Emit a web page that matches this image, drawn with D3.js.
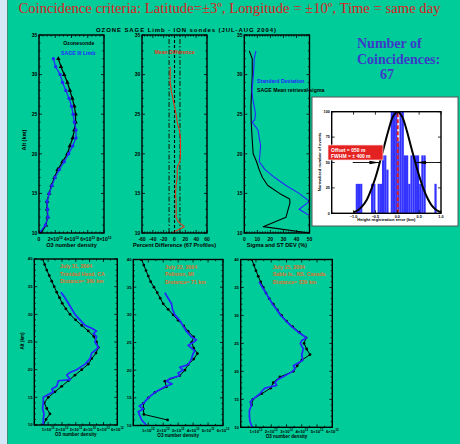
<!DOCTYPE html>
<html>
<head>
<meta charset="utf-8">
<script src="https://cdn.jsdelivr.net/npm/d3@7"></script>
<style>
  body { margin: 0; background: #d4e9f7; }
  svg { display: block; }
  text { font-family: "Liberation Sans", Arial, sans-serif; font-weight: bold; }
</style>
</head>
<body>
<svg id="chart" width="460" height="444"></svg>
<script>
// ---- top row: mean of the 67 coincidences (O3 in units of 10^12)
const meanAlt = [32, 31, 30, 29, 28, 27, 26, 25, 24, 23, 22, 21, 20, 19, 18, 17, 16, 15, 14, 13, 12, 11, 10];
const sondeMean = [2.38, 2.7, 3.1, 3.5, 3.8, 4.1, 4.35, 4.5, 4.5, 4.35, 4.15, 3.8, 3.5, 2.9, 2.3, 1.9, 1.55, 1.25, 1.0, 1.0, 1.05, 0.85, 0.25];
const sageMean = [1.77, 2.05, 2.6, 2.9, 3.3, 3.7, 4.0, 4.2, 4.35, 4.55, 4.55, 4.15, 3.65, 3.1, 2.5, 1.97, 1.6, 1.25, 1.0, 1.05, 1.1, 0.78, 0.05];

const diffAlt = [31, 30, 29, 28, 27, 26, 25, 24, 23, 22, 21, 20, 19, 18.5, 18, 17, 16, 15, 14, 13, 12, 11.4, 10.8, 10];
const meanDiff = [-8, -8, -8, -6, -3, 0, 3, 5, 9, 11, 11, 11, 10, 6, 5, 5, 3, 2, 3, 3, 3, 7, 18, -5];

const sigmaAlt = [33, 32, 30, 28, 26, 24, 22, 20, 19, 18, 17, 16, 15, 14.3, 13.8, 12, 10.8, 10];
const sageSigma = [3.8, 6.1, 6.1, 5.6, 5.1, 5.3, 6.0, 6.8, 9.4, 11.4, 13.9, 18, 27, 34.8, 35, 32, 14.5, 50];
const stdAlt = [33, 32, 30, 28, 27, 26, 25, 24.3, 24, 23, 21, 20, 19, 18, 17, 16, 15, 14, 13, 12, 10];
const stdDev = [8.9, 7.6, 7.0, 5.9, 6.4, 7.6, 8.6, 8.0, 6.0, 10.5, 12.5, 12, 11.5, 15.9, 23.3, 32, 42, 50, 42, 52, 52];

// ---- height registration histogram (km, normalized counts)
const binWidth = 0.05;
const binStart = [-0.95, -0.90, -0.85, -0.60, -0.55, -0.45, -0.40, -0.35, -0.30, -0.25, -0.15, -0.10, -0.05, 0.00, 0.05, 0.10, 0.15, 0.20, 0.25, 0.30, 0.35, 0.40, 0.45, 0.50, 0.55, 0.60, 0.85];
const binCount = [29, 29, 29, 29, 29, 29, 29, 57, 57, 43, 100, 100, 100, 71, 100, 100, 57, 57, 29, 57, 57, 57, 57, 29, 57, 57, 29];
const fitX = [-1.0, -0.9, -0.8, -0.7, -0.6, -0.5, -0.4, -0.3, -0.2, -0.1, 0.0, 0.1, 0.2, 0.3, 0.4, 0.5, 0.6, 0.7, 0.8, 0.9, 1.0];
const fitY = [1, 3, 7, 13, 23, 35, 50, 66, 82, 95, 100, 96, 84, 68, 52, 37, 24, 14, 7, 3, 1];
const fitOffset = 0.01;
const fitHalfWidth = 0.42;

// ---- bottom row: single coincidences
const trinidadSondeAlt = [40, 39, 38, 37, 36, 35, 34, 33, 32, 31, 30, 29, 28, 27, 26, 25, 24, 23, 22, 21, 20, 19, 18, 17, 16, 15, 14, 13, 12, 11, 10];
const trinidadSonde = [0.61, 0.75, 0.9, 1.08, 1.26, 1.44, 1.62, 1.82, 2.02, 2.28, 2.58, 2.98, 3.43, 3.9, 4.3, 4.5, 4.63, 4.46, 4.15, 3.9, 3.43, 2.94, 2.46, 1.98, 1.5, 1.01, 0.72, 0.9, 1.13, 0.85, 0.65];
const trinidadSageAlt = [34, 33, 32, 31, 30, 29, 28, 27.5, 27, 26.5, 26, 25, 24, 23.5, 23, 22, 21, 20, 19.5, 19, 18.2, 18, 17, 16.5, 16, 15, 14, 13, 12, 11, 10];
const trinidadSage = [1.93, 2.22, 2.46, 2.7, 2.94, 3.3, 3.67, 4.15, 4.5, 4.27, 4.5, 4.39, 4.63, 4.4, 4.15, 4.03, 3.67, 3.06, 2.58, 2.34, 2.62, 1.74, 1.62, 1.26, 1.38, 0.65, 0.65, 0.6, 0.7, 0.65, 0.65];

const pellstonSondeAlt = [40, 39, 38, 37, 36, 35, 34, 33, 32, 31, 30, 29, 28, 27, 26, 25, 24, 23, 22, 21, 20, 19, 18, 17, 16, 15, 14, 13, 12, 11];
const pellstonSonde = [0.56, 0.7, 0.85, 1.0, 1.16, 1.38, 1.6, 1.8, 2.0, 2.33, 2.67, 3.0, 3.38, 3.67, 4.04, 3.9, 4.04, 4.29, 4.04, 3.67, 3.45, 3.11, 2.11, 2.22, 1.45, 1.0, 0.67, 0.67, 0.71, 2.29];
const pellstonSageAlt = [34, 33, 32, 31, 30, 29, 28, 27, 26, 25.5, 25, 24.5, 24, 23.5, 23, 22, 21, 20.5, 20, 19.5, 19, 18.5, 18, 17.5, 17, 16, 15, 14, 13.5, 13, 12.5, 12, 11, 10];
const pellstonSage = [2.11, 2.33, 2.56, 2.62, 2.78, 3.11, 3.33, 3.56, 3.89, 4.22, 4.0, 3.67, 3.89, 4.11, 4.0, 3.89, 3.67, 3.11, 3.33, 2.99, 3.11, 2.45, 2.22, 2.6, 2.11, 1.45, 1.0, 0.67, 0.4, 0.67, 0.33, 0.4, 0.56, 0.89];

const sableSondeAlt = [40, 39, 38, 37, 36, 35, 34, 33, 32, 31, 30, 29, 28, 27, 26, 25, 24, 23, 22, 21, 20, 19, 18, 17, 16, 15, 14];
const sableSonde = [0.72, 0.87, 1.0, 1.15, 1.31, 1.48, 1.66, 1.87, 2.14, 2.4, 2.68, 3.0, 3.4, 3.84, 4.28, 4.15, 4.32, 4.54, 4.0, 3.7, 3.45, 2.57, 2.14, 1.96, 1.38, 0.79, 0.72];
const sableSageAlt = [36, 35, 34, 33, 32, 31, 30, 29, 28, 27, 26, 25.5, 25, 24.5, 24, 23, 22, 21, 20.5, 20, 19, 18.5, 18, 17.5, 17, 16.5, 16, 15, 14.5, 14, 13, 12, 11, 10];
const sableSage = [1.2, 1.43, 1.66, 1.87, 2.09, 2.36, 2.62, 2.97, 3.34, 3.77, 4.32, 4.0, 3.9, 4.0, 4.1, 4.0, 4.06, 3.45, 3.56, 3.4, 2.75, 2.4, 2.25, 2.36, 1.59, 1.4, 1.26, 0.78, 0.61, 0.72, 0.57, 0.57, 0.61, 0.76];

const stations = [
    ["July 31, 2004", "Trinidad Head, CA", "Distance= 360 km"],
    ["July 22, 2004", "Pellston, MI", "Distance= 71 km"],
    ["July 25, 2004", "Sable Is., NS, Canada", "Distance= 339 km"]
];

const GREEN = "#00cc99", SONDE = "#000000", SAGE = "#2626ff", RED = "#e8341c", ORANGE = "#e0702e";

const svg = d3.select("#chart");
const defs = svg.append("defs");

// background
svg.append("rect").attr("x", 7).attr("y", 0).attr("width", 453).attr("height", 444).attr("fill", GREEN);
svg.append("line").attr("x1", 7.5).attr("x2", 7.5).attr("y1", 0).attr("y2", 444)
    .attr("stroke", "#3f8f78").attr("stroke-width", 1);

svg.append("text").attr("x", 18.5).attr("y", 13)
    .attr("textLength", 422).attr("lengthAdjust", "spacingAndGlyphs")
    .style("font-family", "'Liberation Serif', 'Times New Roman', serif")
    .style("font-weight", "normal").style("font-size", "15px")
    .attr("fill", "#dd2222")
    .text("Coincidence criteria: Latitude=±3º, Longitude = ±10º, Time = same day");

svg.append("text").attr("x", 96).attr("y", 31.7)
    .attr("textLength", 180).attr("lengthAdjust", "spacing")
    .style("font-size", "6px")
    .text("OZONE SAGE Limb - ION sondes  (JUL-AUG  2004)");

// ---- generic panel helpers
let clipCount = 0;
function makePanel(box, xDom, yDom) {
    const x = d3.scaleLinear().domain(xDom).range([box.x0, box.x1]);
    const y = d3.scaleLinear().domain(yDom).range([box.y1, box.y0]);
    const id = "clip" + (clipCount++);
    defs.append("clipPath").attr("id", id).append("rect")
        .attr("x", box.x0).attr("y", box.y0)
        .attr("width", box.x1 - box.x0).attr("height", box.y1 - box.y0);
    const g = svg.append("g");
    const plot = g.append("g").attr("clip-path", "url(#" + id + ")");
    return { g, plot, x, y, box };
}

function drawFrame(p, o) {
    const { g, x, y, box } = p;
    const xd = x.domain(), yd = y.domain();
    const isMajor = (v, m) => Math.abs(v / m - Math.round(v / m)) < 1e-6;
    d3.range(xd[0], xd[1] + 1e-9, o.xMinor).forEach(v => {
        const len = isMajor(v, o.xMajor) ? 3 : 1.6;
        g.append("line").attr("x1", x(v)).attr("x2", x(v)).attr("y1", box.y1).attr("y2", box.y1 - len)
            .attr("stroke", "black").attr("stroke-width", 0.8);
        g.append("line").attr("x1", x(v)).attr("x2", x(v)).attr("y1", box.y0).attr("y2", box.y0 + len)
            .attr("stroke", "black").attr("stroke-width", 0.8);
    });
    d3.range(yd[0], yd[1] + 1e-9, o.yMinor).forEach(v => {
        const len = isMajor(v, o.yMajor) ? 3 : 1.6;
        g.append("line").attr("y1", y(v)).attr("y2", y(v)).attr("x1", box.x0).attr("x2", box.x0 + len)
            .attr("stroke", "black").attr("stroke-width", 0.8);
        g.append("line").attr("y1", y(v)).attr("y2", y(v)).attr("x1", box.x1).attr("x2", box.x1 - len)
            .attr("stroke", "black").attr("stroke-width", 0.8);
    });
    g.append("rect").attr("x", box.x0).attr("y", box.y0)
        .attr("width", box.x1 - box.x0).attr("height", box.y1 - box.y0)
        .attr("fill", "none").attr("stroke", "black").attr("stroke-width", 1.4);

    // tick labels
    o.xLabels.forEach(v => {
        const t = g.append("text").attr("x", x(v)).attr("y", box.y1 + o.xLabelDy)
            .attr("text-anchor", "middle").style("font-size", o.fs + "px");
        if (o.sci && v !== 0) {
            t.append("tspan").text(v + "×10");
            t.append("tspan").attr("dy", -o.fs * 0.45).style("font-size", (o.fs * 0.7) + "px").text("12");
        } else {
            t.text(o.fmt ? o.fmt(v) : v);
        }
    });
    o.yLabels.forEach(v => {
        g.append("text").attr("x", box.x0 - 1.8).attr("y", y(v) + o.fs * 0.35)
            .attr("text-anchor", "end").style("font-size", o.fs + "px").text(v);
    });
    g.append("text").attr("x", (box.x0 + box.x1) / 2).attr("y", box.y1 + o.titleDy)
        .attr("text-anchor", "middle").style("font-size", o.titleFs + "px").text(o.xTitle);
}

function profileLine(p, alts, vals, color, width) {
    const line = d3.line().x(d => p.x(d[1])).y(d => p.y(d[0]));
    p.plot.append("path").datum(d3.zip(alts, vals))
        .attr("d", line).attr("fill", "none")
        .attr("stroke", color).attr("stroke-width", width).attr("stroke-linejoin", "round");
}

function markers(p, alts, vals, color, type, size) {
    p.plot.append("g").selectAll("path")
        .data(d3.zip(alts, vals))
        .join("path")
        .attr("transform", d => "translate(" + p.x(d[1]) + "," + p.y(d[0]) + ")")
        .attr("d", d3.symbol().type(type).size(size))
        .attr("fill", color);
}

// ---- panel 1: mean O3 number density
const p1 = makePanel({ x0: 39, x1: 104, y0: 35, y1: 233 }, [0, 8], [10, 35]);
profileLine(p1, meanAlt, sondeMean, SONDE, 1.2);
markers(p1, meanAlt, sondeMean, SONDE, d3.symbolTriangle, 9);
profileLine(p1, meanAlt, sageMean, SAGE, 1.2);
markers(p1, meanAlt, sageMean, SAGE, d3.symbolCircle, 9);
drawFrame(p1, { xMinor: 0.5, xMajor: 2, yMinor: 1, yMajor: 5, xLabels: [0, 2, 4, 6, 8], yLabels: [10, 15, 20, 25, 30, 35],
    sci: true, fs: 5, xLabelDy: 8, titleDy: 13.5, titleFs: 5.6, xTitle: "O3  number  density" });
p1.g.append("text").attr("x", 63.3).attr("y", 45).style("font-size", "5.2px").text("Ozonesonde");
p1.g.append("text").attr("x", 61).attr("y", 55).style("font-size", "5.2px").attr("fill", SAGE).text("SAGE III Limb");
svg.append("text").attr("transform", "translate(26,140) rotate(-90)").attr("text-anchor", "middle")
    .style("font-size", "5.6px").text("Alt  (km)");

// ---- panel 2: percent difference
const p2 = makePanel({ x0: 142, x1: 207, y0: 35, y1: 233 }, [-60, 60], [10, 35]);
[-10, 10].forEach(v => {
    p2.plot.append("line").attr("x1", p2.x(v)).attr("x2", p2.x(v)).attr("y1", p2.y(10)).attr("y2", p2.y(35))
        .attr("stroke", "#0a5a3a").attr("stroke-width", 1.6).attr("stroke-dasharray", "5,2,1.5,2");
});
p2.plot.append("line").attr("x1", p2.x(0)).attr("x2", p2.x(0)).attr("y1", p2.y(10)).attr("y2", p2.y(35))
    .attr("stroke", "black").attr("stroke-width", 1.1).attr("stroke-dasharray", "3,2");
profileLine(p2, diffAlt, meanDiff, RED, 1.1);
drawFrame(p2, { xMinor: 5, xMajor: 20, yMinor: 1, yMajor: 5, xLabels: [-60, -40, -20, 0, 20, 40, 60], yLabels: [10, 15, 20, 25, 30, 35],
    sci: false, fs: 5, xLabelDy: 8, titleDy: 13.5, titleFs: 5.6, xTitle: "Percent  Difference  (67 Profiles)" });
p2.g.append("text").attr("x", 174.5).attr("y", 54).attr("text-anchor", "middle")
    .style("font-size", "5.2px").attr("fill", RED).text("Mean Difference");

// ---- panel 3: sigma and standard deviation
const p3 = makePanel({ x0: 244.3, x1: 309.5, y0: 35, y1: 233 }, [0, 50], [10, 35]);
profileLine(p3, sigmaAlt, sageSigma, SONDE, 1.1);
profileLine(p3, stdAlt, stdDev, SAGE, 1.1);
drawFrame(p3, { xMinor: 2, xMajor: 10, yMinor: 1, yMajor: 5, xLabels: [0, 10, 20, 30, 40, 50], yLabels: [10, 15, 20, 25, 30, 35],
    sci: false, fs: 5, xLabelDy: 8, titleDy: 13.5, titleFs: 5.6, xTitle: "Sigma  and ST DEV  (%)" });
svg.append("text").attr("x", 257).attr("y", 83).style("font-size", "5.2px").attr("fill", SAGE).text("Standard  Deviation");
svg.append("text").attr("x", 257).attr("y", 92).style("font-size", "5.2px").text("SAGE  Mean  retrieval  sigma");

// ---- number of coincidences
const serif = "'Liberation Serif', 'Times New Roman', serif";
const coinColor = "#3b3bc8";
svg.append("text").attr("x", 357).attr("y", 48).style("font-family", serif).style("font-size", "14px")
    .attr("fill", coinColor).text("Number of");
svg.append("text").attr("x", 357).attr("y", 63.5).style("font-family", serif).style("font-size", "14px")
    .attr("fill", coinColor).text("Coincidences:");
svg.append("text").attr("x", 387).attr("y", 79).attr("text-anchor", "middle").style("font-family", serif).style("font-size", "14px")
    .attr("fill", coinColor).text("67");

// ---- histogram inset
svg.append("rect").attr("x", 312).attr("y", 97).attr("width", 146).attr("height", 129)
    .attr("fill", "white").attr("stroke", "#555").attr("stroke-width", 1);
const ph = makePanel({ x0: 331.7, x1: 441, y0: 111.7, y1: 213.3 }, [-1.5, 1.0], [0, 100]);
ph.plot.selectAll("rect.bar")
    .data(d3.zip(binStart, binCount))
    .join("rect")
    .attr("class", "bar")
    .attr("x", d => ph.x(d[0]))
    .attr("width", d => ph.x(d[0] + binWidth) - ph.x(d[0]))
    .attr("y", d => ph.y(d[1]))
    .attr("height", d => ph.y(0) - ph.y(d[1]))
    .attr("fill", "#3333ff");
ph.plot.append("path").datum(d3.zip(fitX, fitY))
    .attr("d", d3.line().x(d => ph.x(d[0])).y(d => ph.y(d[1])).curve(d3.curveCatmullRom))
    .attr("fill", "none").attr("stroke", "black").attr("stroke-width", 2);
ph.plot.append("line").attr("x1", ph.x(fitOffset)).attr("x2", ph.x(fitOffset)).attr("y1", ph.y(0)).attr("y2", ph.y(100))
    .attr("stroke", "#e02020").attr("stroke-width", 2).attr("stroke-dasharray", "4,2");
// half width arrows
function arrow(from, to) {
    const y0 = ph.y(50), xt = ph.x(to), dir = Math.sign(to - from);
    ph.g.append("line").attr("x1", ph.x(from)).attr("x2", xt).attr("y1", y0).attr("y2", y0)
        .attr("stroke", "black").attr("stroke-width", 0.9);
    ph.g.append("path").attr("d", "M" + xt + "," + y0 + "L" + (xt - dir * 10) + "," + (y0 - 1.8) + "L" + (xt - dir * 10) + "," + (y0 + 1.8) + "Z")
        .attr("fill", "black");
}
arrow(-1.02, fitOffset - fitHalfWidth);
arrow(1.0, fitOffset + fitHalfWidth);
drawFrame(ph, { xMinor: 0.5, xMajor: 0.5, yMinor: 25, yMajor: 25, xLabels: [-1.0, -0.5, 0.0, 0.5, 1.0], yLabels: [0, 25, 50, 75, 100],
    sci: false, fmt: d3.format(".1f"), fs: 3.8, xLabelDy: 4.5, titleDy: 8, titleFs: 4.2, xTitle: "Height registration error (km)" });
svg.append("text").attr("transform", "translate(321,162) rotate(-90)").attr("text-anchor", "middle")
    .style("font-size", "4.2px").text("Normalized number of events");
svg.append("rect").attr("x", 328).attr("y", 145).attr("width", 55).attr("height", 15)
    .attr("fill", "#e52222").attr("stroke", "#ffdddd").attr("stroke-width", 0.7);
svg.append("text").attr("x", 331).attr("y", 151.5).style("font-size", "5px").attr("fill", "white").text("Offset = 050 m");
svg.append("text").attr("x", 331).attr("y", 158.2).style("font-size", "5px").attr("fill", "white").text("FWHM = ± 400 m");

// ---- bottom row: individual coincidences
const bottomBoxes = [
    { x0: 34.3, x1: 117.3, y0: 259, y1: 425 },
    { x0: 133.3, x1: 223, y0: 259.5, y1: 425.5 },
    { x0: 240.7, x1: 332.3, y0: 259.5, y1: 427.3 }
];
const bottomData = [
    [trinidadSondeAlt, trinidadSonde, trinidadSageAlt, trinidadSage],
    [pellstonSondeAlt, pellstonSonde, pellstonSageAlt, pellstonSage],
    [sableSondeAlt, sableSonde, sableSageAlt, sableSage]
];
const textX = [60, 165, 272.7];
bottomBoxes.forEach((box, i) => {
    const p = makePanel(box, [0, 6], [10, 40]);
    const [sa, sv, ga, gv] = bottomData[i];
    profileLine(p, sa, sv, SONDE, 1);
    markers(p, sa, sv, SONDE, d3.symbolCircle, 6);
    profileLine(p, ga, gv, SAGE, 1.7);
    drawFrame(p, { xMinor: 0.5, xMajor: 1, yMinor: 1, yMajor: 5, xLabels: [1, 2, 3, 4, 5, 6], yLabels: [10, 15, 20, 25, 30, 35, 40],
        sci: true, fs: 4.2, xLabelDy: 6, titleDy: 11, titleFs: 4.6, xTitle: "O3  number  density" });
    stations[i].forEach((s, k) => {
        p.g.append("text").attr("x", textX[i]).attr("y", box.y0 + 9 + k * 7.5)
            .style("font-size", "5.2px").attr("fill", ORANGE).text(s);
    });
});
svg.append("text").attr("transform", "translate(24,341) rotate(-90)").attr("text-anchor", "middle")
    .style("font-size", "4.6px").text("Alt  (km)");
</script>
</body>
</html>
